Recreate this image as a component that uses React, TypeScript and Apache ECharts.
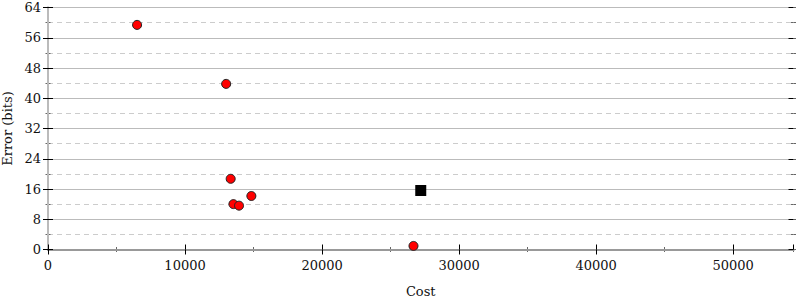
import React, { useEffect, useRef } from "react";
import * as echarts from "echarts";

const costs = [6500, 13000, 13330, 13530, 13940, 14840, 26670];
const errors = [59.4, 43.8, 18.7, 12.0, 11.6, 14.15, 0.95];
const refCost = [27200];
const refError = [15.6];

const FONT = "DejaVu Serif";
const TXT = "#111";
const FS = 13;

export default function App() {
  const ref = useRef<HTMLDivElement>(null);
  useEffect(() => {
    const chart = echarts.init(ref.current!, null, { renderer: "svg" });
    const yBase = { type: "value", min: 0, max: 64, interval: 8 };
    const yMinor = { type: "value", min: 0, max: 64, interval: 4 };
    const xBase = { type: "value", min: 0, max: 54400, interval: 10000 };
    const xMinor = { type: "value", min: 0, max: 54400, interval: 5000 };
    const hidden = {
      axisLine: { show: false },
      axisLabel: { show: false },
      splitLine: { show: false },
      minorTick: { show: false },
    };
    const minorTickStyle = { color: "#666", width: 1 };
    chart.setOption({
      animation: false,
      grid: { left: 48, right: 6.5, top: 7.5, bottom: 50.5, containLabel: false, outerBoundsMode: "none" },
      xAxis: [
        {
          ...xBase,
          position: "bottom",
          name: "Cost",
          nameLocation: "middle",
          nameGap: 35,
          nameTextStyle: { fontFamily: FONT, fontSize: FS, color: TXT },
          axisLine: { show: true, lineStyle: { color: "#999", width: 2 } },
          axisTick: { show: true, length: 5, lineStyle: { color: "#000" } },
          minorTick: { show: false },
          axisLabel: {
            fontFamily: FONT,
            fontSize: FS,
            color: TXT,
            margin: 9,
            showMaxLabel: false,
            formatter: (v: number) => String(v),
          },
          splitLine: { show: false },
          z: 3,
        },
        {
          ...xBase,
          position: "bottom",
          ...hidden,
          axisTick: { show: true, inside: true, length: 5, lineStyle: { color: "#000" } },
          z: 3,
        },
        {
          ...xMinor,
          position: "bottom",
          ...hidden,
          axisTick: { show: true, length: 2.5, lineStyle: minorTickStyle },
        },
        {
          ...xMinor,
          position: "bottom",
          ...hidden,
          axisTick: { show: true, inside: true, length: 2.5, lineStyle: minorTickStyle },
        },
        {
          ...xBase,
          position: "top",
          ...hidden,
          axisLine: { show: true, lineStyle: { color: "#999", width: 2 } },
          axisTick: { show: false },
        },
      ],
      yAxis: [
        {
          ...yBase,
          position: "left",
          name: "Error (bits)",
          nameLocation: "middle",
          nameGap: 32,
          nameTextStyle: { fontFamily: FONT, fontSize: FS, color: TXT },
          axisLine: { show: true, lineStyle: { color: "#bbb", width: 2 } },
          axisTick: { show: true, length: 5, lineStyle: { color: "#000" } },
          minorTick: { show: false },
          axisLabel: { fontFamily: FONT, fontSize: FS, color: TXT, margin: 7 },
          splitLine: { show: true, lineStyle: { color: "#bbb", width: 1 } },
          z: 3,
        },
        {
          ...yBase,
          position: "left",
          offset: 0,
          ...hidden,
          axisTick: { show: true, inside: true, length: 5, lineStyle: { color: "#000" } },
          z: 3,
        },
        {
          ...yMinor,
          position: "left",
          offset: 0,
          ...hidden,
          axisTick: { show: true, length: 2.5, lineStyle: minorTickStyle },
          splitLine: {
            show: true,
            interval: (i: number) => i % 2 === 1,
            lineStyle: { color: "#ccc", width: 1, type: [5, 4] },
          },
        },
        {
          ...yMinor,
          position: "left",
          offset: 0,
          ...hidden,
          axisTick: { show: true, inside: true, length: 2.5, lineStyle: minorTickStyle },
        },
        {
          ...yBase,
          position: "right",
          offset: 0,
          ...hidden,
          axisLine: { show: true, lineStyle: { color: "#bbb", width: 2 } },
          axisTick: { show: true, length: 4, lineStyle: { color: "#000" } },
          z: 3,
        },
        {
          ...yBase,
          position: "right",
          offset: 0,
          ...hidden,
          axisTick: { show: true, inside: true, length: 5, lineStyle: { color: "#000" } },
          z: 3,
        },
        {
          ...yMinor,
          position: "right",
          offset: 0,
          ...hidden,
          axisTick: { show: true, length: 2.5, lineStyle: minorTickStyle },
        },
        {
          ...yMinor,
          position: "right",
          offset: 0,
          ...hidden,
          axisTick: { show: true, inside: true, length: 2.5, lineStyle: minorTickStyle },
        },
      ],
      series: [
        {
          type: "scatter",
          xAxisIndex: 0,
          yAxisIndex: 0,
          symbol: "circle",
          symbolSize: 9,
          itemStyle: { color: "#ff0000", borderColor: "#222", borderWidth: 1, opacity: 1 },
          data: costs.map((c, i) => [c, errors[i]]),
          z: 5,
        },
        {
          type: "scatter",
          xAxisIndex: 0,
          yAxisIndex: 0,
          symbol: "rect",
          symbolSize: 11,
          itemStyle: { color: "#000", opacity: 1 },
          data: refCost.map((c, i) => [c, refError[i]]),
          z: 5,
        },
      ],
    });
    return () => chart.dispose();
  }, []);
  return <div ref={ref} style={{ width: 800, height: 300, position: "absolute", left: 0, top: 0 }} />;
}
